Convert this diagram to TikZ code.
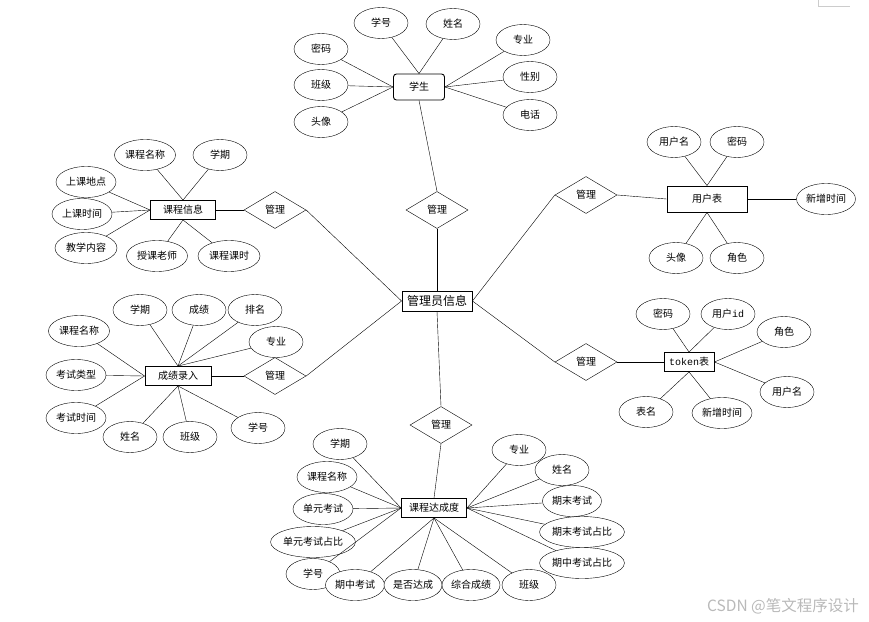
\documentclass[tikz,border=0pt]{standalone}
\usepackage{fontspec}
\setmainfont{Noto Sans CJK SC}
\newfontfamily\latmono{Liberation Mono}
\usepackage{tikz}
\usetikzlibrary{shapes, positioning}

\begin{document}
\begin{tikzpicture}[
		x=1pt, y=-1pt,
		font=\fontsize{10}{12}\selectfont,
		ent/.style={draw, line width=0.9pt, fill=white, minimum width=65pt, minimum height=19pt, inner sep=1pt},
		attr/.style={draw, ellipse, fill=white, minimum width=54pt, minimum height=31pt, inner sep=0pt},
		rel/.style={draw, diamond, fill=white, minimum width=62pt, minimum height=37pt, inner sep=0pt},
		link/.style={thin}
	]
	\useasboundingbox (0,0) rectangle (869,621);

	% Corner mark
	\draw[gray!40] (818,0) -- (818,6) -- (850,6);

	% Center
	\node[ent, minimum width=70pt, minimum height=20pt, font=\fontsize{12}{14}\selectfont] (admin) at (437,301) {管理员信息};

	% Student
	\node[ent, rounded corners=3pt, minimum width=51pt, minimum height=26pt] (stu) at (419,87) {学生};
	\node[attr] (stuNo) at (381,23) {学号};
	\node[attr] (stuName) at (453,24) {姓名};
	\node[attr] (stuMajor) at (523,40) {专业};
	\node[attr] (stuSex) at (530,77) {性别};
	\node[attr] (stuTel) at (530,115) {电话};
	\node[attr] (stuPwd) at (321,49) {密码};
	\node[attr] (stuClass) at (321,85) {班级};
	\node[attr] (stuAvatar) at (321,122) {头像};
	\node[rel] (mgStu) at (437,210) {管理};

	% Course info
	\node[ent] (course) at (183,210) {课程信息};
	\node[attr, minimum width=61pt] (crsName) at (145,155) {课程名称};
	\node[attr] (crsTerm) at (220,155) {学期};
	\node[attr, minimum width=60pt] (crsPlace) at (86,182) {上课地点};
	\node[attr, minimum width=60pt] (crsTime) at (82,214) {上课时间};
	\node[attr, minimum width=62pt] (crsContent) at (86,248) {教学内容};
	\node[attr, minimum width=61pt] (crsTeacher) at (157,256) {授课老师};
	\node[attr, minimum width=62pt] (crsHours) at (229,256) {课程课时};
	\node[rel] (mgCourse) at (275,210) {管理};

	% User table
	\node[ent, minimum width=80pt, minimum height=26pt] (user) at (707,199) {用户表};
	\node[attr] (usrName) at (674,142) {用户名};
	\node[attr] (usrPwd) at (737,142) {密码};
	\node[attr, minimum width=59pt] (usrTime) at (826,199) {新增时间};
	\node[attr] (usrAvatar) at (676,258) {头像};
	\node[attr] (usrRole) at (737,258) {角色};
	\node[rel] (mgUser) at (586,195) {管理};

	% Score entry
	\node[ent, minimum width=66pt] (score) at (178,376) {成绩录入};
	\node[attr, minimum width=61pt] (scCourse) at (79,331) {课程名称};
	\node[attr] (scTerm) at (140,310) {学期};
	\node[attr] (scScore) at (199,310) {成绩};
	\node[attr] (scRank) at (255,310) {排名};
	\node[attr] (scMajor) at (276,342) {专业};
	\node[attr, minimum width=60pt] (scType) at (76,375) {考试类型};
	\node[attr, minimum width=60pt] (scTime) at (76,418) {考试时间};
	\node[attr] (scName) at (130,437) {姓名};
	\node[attr] (scClass) at (190,437) {班级};
	\node[attr] (scNo) at (258,428) {学号};
	\node[rel] (mgScore) at (275,376) {管理};

	% Token table
	\node[ent, minimum width=50pt] (token) at (689,362) {{\latmono token}表};
	\node[attr] (tkPwd) at (663,314) {密码};
	\node[attr] (tkUid) at (728,314) {用户{\latmono id}};
	\node[attr] (tkRole) at (784,332) {角色};
	\node[attr] (tkUser) at (787,392) {用户名};
	\node[attr] (tkTable) at (646,412) {表名};
	\node[attr, minimum width=60pt] (tkTime) at (722,413) {新增时间};
	\node[rel] (mgToken) at (586,362) {管理};

	% Course attainment
	\node[ent] (reach) at (434,508) {课程达成度};
	\node[rel] (mgReach) at (441,425) {管理};
	\node[attr] (rcTerm) at (340,444) {学期};
	\node[attr, minimum width=60pt] (rcCourse) at (327,477) {课程名称};
	\node[attr, minimum width=60pt] (rcUnit) at (323,509) {单元考试};
	\node[attr, minimum width=80pt] (rcUnitPct) at (313,542) {单元考试占比};
	\node[attr] (rcNo) at (313,574) {学号};
	\node[attr, minimum width=59pt] (rcMid) at (355,585) {期中考试};
	\node[attr, minimum width=58pt] (rcPass) at (413,585) {是否达成};
	\node[attr, minimum width=58pt] (rcTotal) at (471,585) {综合成绩};
	\node[attr] (rcClass) at (529,585) {班级};
	\node[attr] (rcMajor) at (519,450) {专业};
	\node[attr] (rcName) at (562,470) {姓名};
	\node[attr, minimum width=59pt] (rcFinal) at (572,501) {期末考试};
	\node[attr, minimum width=79pt] (rcFinalPct) at (582,532) {期末考试占比};
	\node[attr, minimum width=79pt] (rcMidPct) at (582,563) {期中考试占比};

	% Watermark
	\node[text=gray!55, font=\fontsize{15.5}{18}\selectfont] (mark) at (783,606) {CSDN @笔文程序设计};

	% Links
	\draw[link] (stuNo) -- (stu.north);
	\draw[link] (stuName) -- (stu.north);
	\draw[link] (stuMajor) -- (stu.east);
	\draw[link] (stuSex) -- (stu.east);
	\draw[link] (stuTel) -- (stu.east);
	\draw[link] (stuPwd) -- (stu.west);
	\draw[link] (stuClass) -- (stu.west);
	\draw[link] (stuAvatar) -- (stu.west);
	\draw[link] (stu.south) -- (mgStu.north);
	\draw[link] (mgStu.south) -- (admin.north);

	\draw[link] (crsName) -- (course.north);
	\draw[link] (crsTerm) -- (course.north);
	\draw[link] (crsPlace) -- (course.west);
	\draw[link] (crsTime) -- (course.west);
	\draw[link] (crsContent) -- (course.west);
	\draw[link] (crsTeacher) -- (course.south);
	\draw[link] (crsHours) -- (course.south);
	\draw[link] (course.east) -- (mgCourse.west);
	\draw[link] (mgCourse.east) -- (admin.west);

	\draw[link] (usrName) -- (user.north);
	\draw[link] (usrPwd) -- (user.north);
	\draw[link] (usrTime) -- (user.east);
	\draw[link] (usrAvatar) -- (user.south);
	\draw[link] (usrRole) -- (user.south);
	\draw[link] (mgUser.east) -- (user.west);
	\draw[link] (mgUser.west) -- (admin.east);

	\draw[link] (scCourse) -- (score.west);
	\draw[link] (scType) -- (score.west);
	\draw[link] (scTime) -- (score.west);
	\draw[link] (scTerm) -- (score.north);
	\draw[link] (scScore) -- (score.north);
	\draw[link] (scRank) -- (score.north);
	\draw[link] (scMajor) -- (score.north);
	\draw[link] (scName) -- (score.south);
	\draw[link] (scClass) -- (score.south);
	\draw[link] (scNo) -- (score.south);
	\draw[link] (score.east) -- (mgScore.west);
	\draw[link] (mgScore.east) -- (admin.west);

	\draw[link] (tkPwd) -- (token.north);
	\draw[link] (tkUid) -- (token.north);
	\draw[link] (tkRole) -- (token.east);
	\draw[link] (tkUser) -- (token.east);
	\draw[link] (tkTable) -- (token.south);
	\draw[link] (tkTime) -- (token.south);
	\draw[link] (mgToken.east) -- (token.west);
	\draw[link] (mgToken.west) -- (admin.east);

	\draw[link] (admin.south) -- (mgReach.north);
	\draw[link] (mgReach.south) -- (reach.north);
	\draw[link] (rcTerm) -- (reach.west);
	\draw[link] (rcCourse) -- (reach.west);
	\draw[link] (rcUnit) -- (reach.west);
	\draw[link] (rcUnitPct) -- (reach.west);
	\draw[link] (rcNo) -- (reach.west);
	\draw[link] (rcMid) -- (reach.south);
	\draw[link] (rcPass) -- (reach.south);
	\draw[link] (rcTotal) -- (reach.south);
	\draw[link] (rcClass) -- (reach.south);
	\draw[link] (rcMajor) -- (reach.east);
	\draw[link] (rcName) -- (reach.east);
	\draw[link] (rcFinal) -- (reach.east);
	\draw[link] (rcFinalPct) -- (reach.east);
	\draw[link] (rcMidPct) -- (reach.east);
\end{tikzpicture}
\end{document}
